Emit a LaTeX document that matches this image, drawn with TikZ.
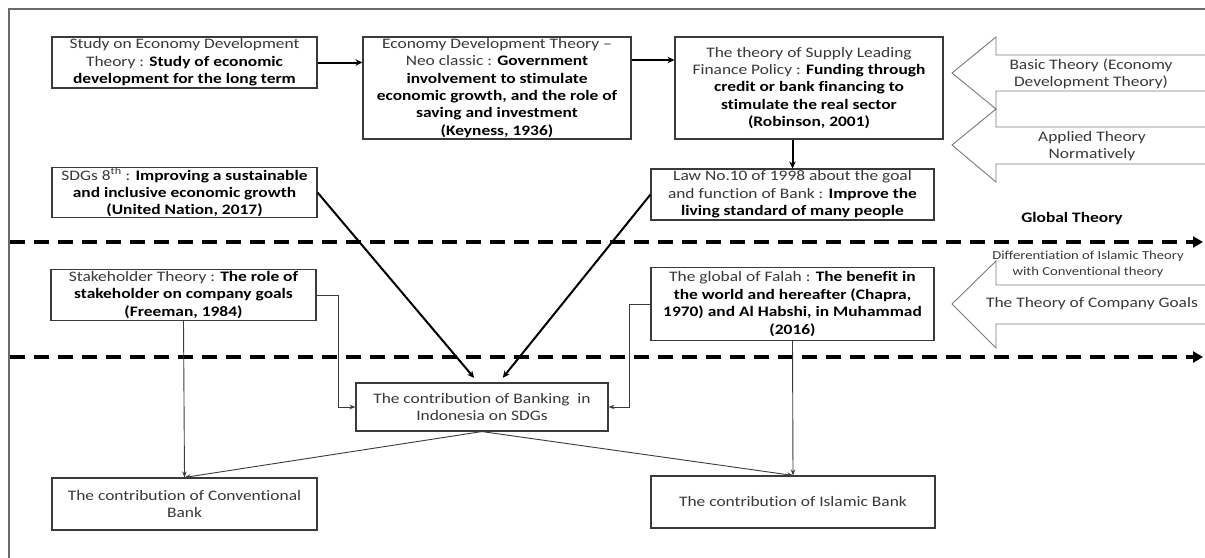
\documentclass[tikz,border=0pt]{standalone}
\usepackage{fontspec}
\setmainfont{Carlito}[FakeStretch=1.2, Ligatures=NoCommon]
\usetikzlibrary{arrows.meta,calc}
\definecolor{txtg}{HTML}{383838}
\definecolor{boxg}{HTML}{3A3A3A}
\definecolor{arrg}{HTML}{7A7A7A}
\definecolor{frameg}{HTML}{6A6A6A}
\newcommand\mybold[1]{\textcolor{black}{\bfseries #1}}
\begin{document}
\begin{tikzpicture}[x=1pt,y=-1pt,
  font=\fontsize{14.5}{17.4}\selectfont,
  box/.style={draw=boxg, line width=1.1pt, fill=white, align=center, inner sep=0pt, text=txtg},
  lbl/.style={align=center, inner sep=0pt, text=txtg},
  smalllbl/.style={align=center, inner sep=0pt, text=txtg, font=\fontsize{12.2}{16}\selectfont},
  thickarr/.style={line width=2pt, draw=black, -{Stealth[length=7pt,width=6.5pt]}},
  thinarr/.style={line width=0.9pt, draw=boxg, -{Stealth[length=6pt,width=4.5pt]}},
  dashline/.style={line width=3.2pt, dash pattern=on 15pt off 9pt, -{Triangle[length=10pt,width=11pt]}},
  blockarr/.style={draw=arrg, line width=0.9pt, fill=white}]
\useasboundingbox (0,0) rectangle (1205,557);
% frame
\draw[frameg, line width=1.3pt] (1210,9) -- (9,9) -- (9,562);
% block arrows
\draw[blockarr] (1210,55) -- (996,55) -- (996,37) -- (952,73) -- (996,109) -- (996,91) -- (1210,91);
\draw[blockarr] (1210,127) -- (996,127) -- (996,109) -- (952,145) -- (996,182) -- (996,164) -- (1210,164);
\draw[blockarr] (1210,285) -- (996,285) -- (996,261) -- (952,304) -- (996,348) -- (996,324) -- (1210,324);
\node[lbl] (basic) at (1091,74) {Basic Theory (Economy\\Development Theory)};
\node[lbl] (applied) at (1092,146) {Applied Theory\\Normatively};
\node[smalllbl] (diff) at (1088,264) {Differentiation of Islamic Theory\\with Conventional theory};
\node[lbl] (goals) at (1092,304) {The Theory of Company Goals};
\node[inner sep=0pt] (glob) at (1072,219) {\mybold{Global Theory}};
% dashed lines
\coordinate (d1a) at (10,242); \coordinate (d1b) at (1203,242);
\coordinate (d2a) at (10,357); \coordinate (d2b) at (1203,357);
\draw[dashline] (d1a) -- (d1b);
\draw[dashline] (d2a) -- (d2b);
% boxes
\node[box, minimum width=265pt, minimum height=51pt] (b1) at (184.5,62.5)
  {Study on Economy Development\\Theory : \mybold{Study of economic}\\\mybold{development for the long term}};
\node[box, minimum width=268pt, minimum height=102pt] (b2) at (497,88)
  {Economy Development Theory --\\Neo classic : \mybold{Government}\\\mybold{involvement to stimulate}\\\mybold{economic growth, and the role of}\\\mybold{saving and investment}\\\mybold{(Keyness, 1936)}};
\node[box, minimum width=268pt, minimum height=102pt] (b3) at (809,88)
  {The theory of Supply Leading\\Finance Policy : \mybold{Funding through}\\\mybold{credit or bank financing to}\\\mybold{stimulate the real sector}\\\mybold{(Robinson, 2001)}};
\node[box, minimum width=283pt, minimum height=51pt] (law) at (792.5,194.5)
  {Law No.10 of 1998 about the goal\\and function of Bank : \mybold{Improve the}\\\mybold{living standard of many people}};
\node[box, minimum width=265pt, minimum height=49pt] (sdg) at (184.5,192.5)
  {SDGs 8\textsuperscript{th} : \mybold{Improving a sustainable}\\\mybold{and inclusive economic growth}\\\mybold{(United Nation, 2017)}};
\node[box, minimum width=265pt, minimum height=51pt] (stake) at (183.5,295)
  {Stakeholder Theory : \mybold{The role of}\\\mybold{stakeholder on company goals}\\\mybold{(Freeman, 1984)}};
\node[box, minimum width=283pt, minimum height=73pt] (falah) at (792.5,304)
  {The global of Falah : \mybold{The benefit in}\\\mybold{the world and hereafter (Chapra,}\\\mybold{1970) and Al Habshi, in Muhammad}\\\mybold{(2016)}};
\node[box, minimum width=252pt, minimum height=48pt] (bank) at (482,407)
  {The contribution of Banking~ in\\Indonesia on SDGs};
\node[box, minimum width=265pt, minimum height=52pt] (conv) at (184.5,504)
  {The contribution of Conventional\\Bank};
\node[box, minimum width=284pt, minimum height=52pt] (isl) at (793,502)
  {The contribution of Islamic Bank};
% connectors
\draw[thickarr] (b1.east) -- (b1.east -| b2.west);
\draw[thickarr] ([yshift=28pt]b2.east) -- ([yshift=28pt]b2.east -| b3.west);
\draw[thickarr] (law.north |- b3.south) -- (law.north);
\draw[thickarr, shorten >=6pt] (sdg.east) -- ([xshift=-4pt]bank.north);
\draw[thickarr, shorten >=6pt] (law.west) -- ([xshift=17pt]bank.north);
\draw[thinarr] (stake.east) -- ++(22,0) |- (bank.west);
\draw[thinarr] (falah.west) -- ++(-21,0) |- (bank.east);
\draw[thinarr] (stake.south) -- (conv.north);
\draw[thinarr] (falah.south) -- (isl.north);
\draw[thinarr] (bank.south) -- (conv.north);
\draw[thinarr] (bank.south) -- (isl.north);
\end{tikzpicture}
\end{document}
